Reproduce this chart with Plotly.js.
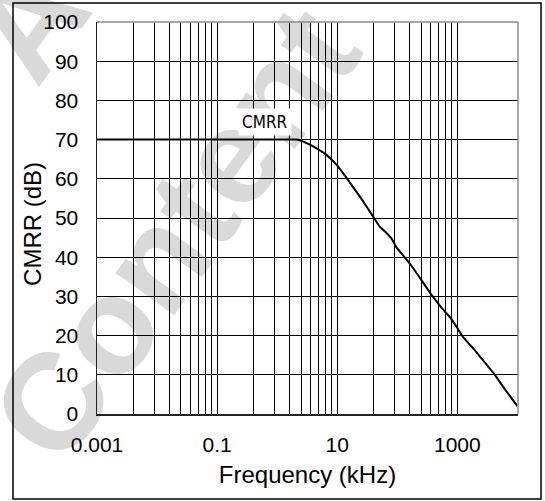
<!DOCTYPE html>
<html>
<head>
<meta charset="utf-8">
<script src="https://cdn.plot.ly/plotly-3.0.1.min.js"></script>
<style>
html,body{margin:0;padding:0;background:#fff;}
#chart{width:545px;height:501px;}
</style>
</head>
<body>
<div id="chart"></div>
<script>
// Data (frequency in kHz, CMRR in dB)
var freqKHz = [0.001, 0.5, 1, 2.1, 2.6, 3.5, 4.8, 6.6, 9.7, 14.5, 25.5, 40.6, 51, 65, 80, 97, 165, 246, 367, 548, 800, 1250, 1824, 2400, 4064, 6400, 10000];
var cmrrDB  = [70, 70, 70, 70, 69.6, 68.7, 67.5, 66.1, 63.6, 60.1, 54.8, 50.1, 47.8, 46.3, 44.8, 42.5, 38.2, 34.4, 30.5, 27.1, 24.2, 19.6, 16.8, 14.6, 10.3, 6.0, 2.0];

// Axis labels / gridline layout of the reference (one grid cycle spans two decades)
var xTickLabels = ['0.001', '0.1', '10', '1000'];
var cycleStarts = [0.001, 0.1, 10];
var gridFactors = [1, 4, 9, 16, 25, 36, 49, 64, 81];
var yTicks = [0, 10, 20, 30, 40, 50, 60, 70, 80, 90, 100];

var tickvals = [], ticktext = [];
cycleStarts.forEach(function (s, i) {
  gridFactors.forEach(function (g, j) {
    tickvals.push(s * g);
    ticktext.push(j === 0 ? xTickLabels[i] : '');
  });
});
tickvals.push(1000);
ticktext.push(xTickLabels[3]);

var FONT = 'Liberation Sans, Arial, sans-serif';
var WM = {family: 'Liberation Sans, Arial, sans-serif', size: 137, color: '#d9d9d9', weight: 'bold'};

var trace = {
  x: freqKHz,
  y: cmrrDB,
  type: 'scatter',
  mode: 'lines',
  line: {color: '#000000', width: 2, shape: 'spline', smoothing: 0.4},
  hoverinfo: 'skip'
};

var layout = {
  width: 545,
  height: 501,
  margin: {l: 97, r: 27, t: 22, b: 87},
  paper_bgcolor: '#ffffff',
  plot_bgcolor: 'rgba(0,0,0,0)',
  showlegend: false,
  font: {family: FONT, color: '#000000', size: 21},
  xaxis: {
    type: 'log',
    range: [-3, 4.01],
    tickmode: 'array',
    tickvals: tickvals,
    ticktext: ticktext,
    ticks: '',
    showgrid: true,
    gridcolor: '#000000',
    gridwidth: 1,
    showline: true,
    linecolor: '#222222',
    linewidth: 1.5,
    zeroline: false,
    tickfont: {family: FONT, size: 21, color: '#000000'},
    ticklabelstandoff: 11,
    title: {text: 'Frequency (kHz)', font: {family: FONT, size: 24, color: '#000000'}, standoff: 11},
    automargin: false,
    fixedrange: true
  },
  yaxis: {
    range: [0, 100],
    tickmode: 'array',
    tickvals: yTicks,
    ticks: '',
    showgrid: true,
    gridcolor: '#000000',
    gridwidth: 1,
    showline: true,
    linecolor: '#222222',
    linewidth: 1.5,
    zeroline: false,
    tickfont: {family: FONT, size: 21, color: '#000000'},
    ticklabelstandoff: 13,
    title: {text: ''},
    automargin: false,
    fixedrange: true
  },
  annotations: [
    {
      x: Math.log10(0.62), y: 74.5, xref: 'x', yref: 'y',
      text: 'CMRR', showarrow: false,
      font: {family: 'Liberation Sans Narrow, DejaVu Sans Condensed, Arial Narrow, sans-serif', size: 17, color: '#000000'},
      bgcolor: '#ffffff', borderpad: 3
    },
    {
      x: -0.152, y: 0.485, xref: 'paper', yref: 'paper',
      xanchor: 'center', yanchor: 'middle',
      text: 'CMRR (dB)', textangle: -90, showarrow: false,
      font: {family: FONT, size: 24, color: '#000000'}
    }
  ],
  shapes: [
    // watermark behind the grid
    {
      type: 'rect', xref: 'paper', yref: 'paper',
      x0: 0.11, x1: 0.21, y0: 0.43, y1: 0.53,
      line: {width: 0}, fillcolor: 'rgba(0,0,0,0)', layer: 'below',
      label: {text: 'Content', textangle: -54, textposition: 'middle center', font: WM}
    },
    {
      type: 'rect', xref: 'paper', yref: 'paper',
      x0: -0.22, x1: -0.16, y0: 0.99, y1: 1.05,
      line: {width: 0}, fillcolor: 'rgba(0,0,0,0)', layer: 'below',
      label: {text: 'A', textangle: -54, textposition: 'middle center', font: WM}
    },
    // top and right frame of the plot area (gray)
    {type: 'line', xref: 'paper', yref: 'paper', x0: 0, x1: 1, y0: 1, y1: 1, line: {color: '#8c8c8c', width: 1.5}},
    {type: 'line', xref: 'paper', yref: 'paper', x0: 1, x1: 1, y0: 0, y1: 1, line: {color: '#8c8c8c', width: 1.5}},
    // outer figure frame
    {type: 'rect', xref: 'paper', yref: 'paper',
     x0: -0.1995, x1: 1.0547, y0: -0.2168, y1: 1.0485,
     line: {color: '#000000', width: 1.5}, fillcolor: 'rgba(0,0,0,0)'}
  ]
};

Plotly.newPlot('chart', [trace], layout, {staticPlot: true, displayModeBar: false});
</script>
</body>
</html>
